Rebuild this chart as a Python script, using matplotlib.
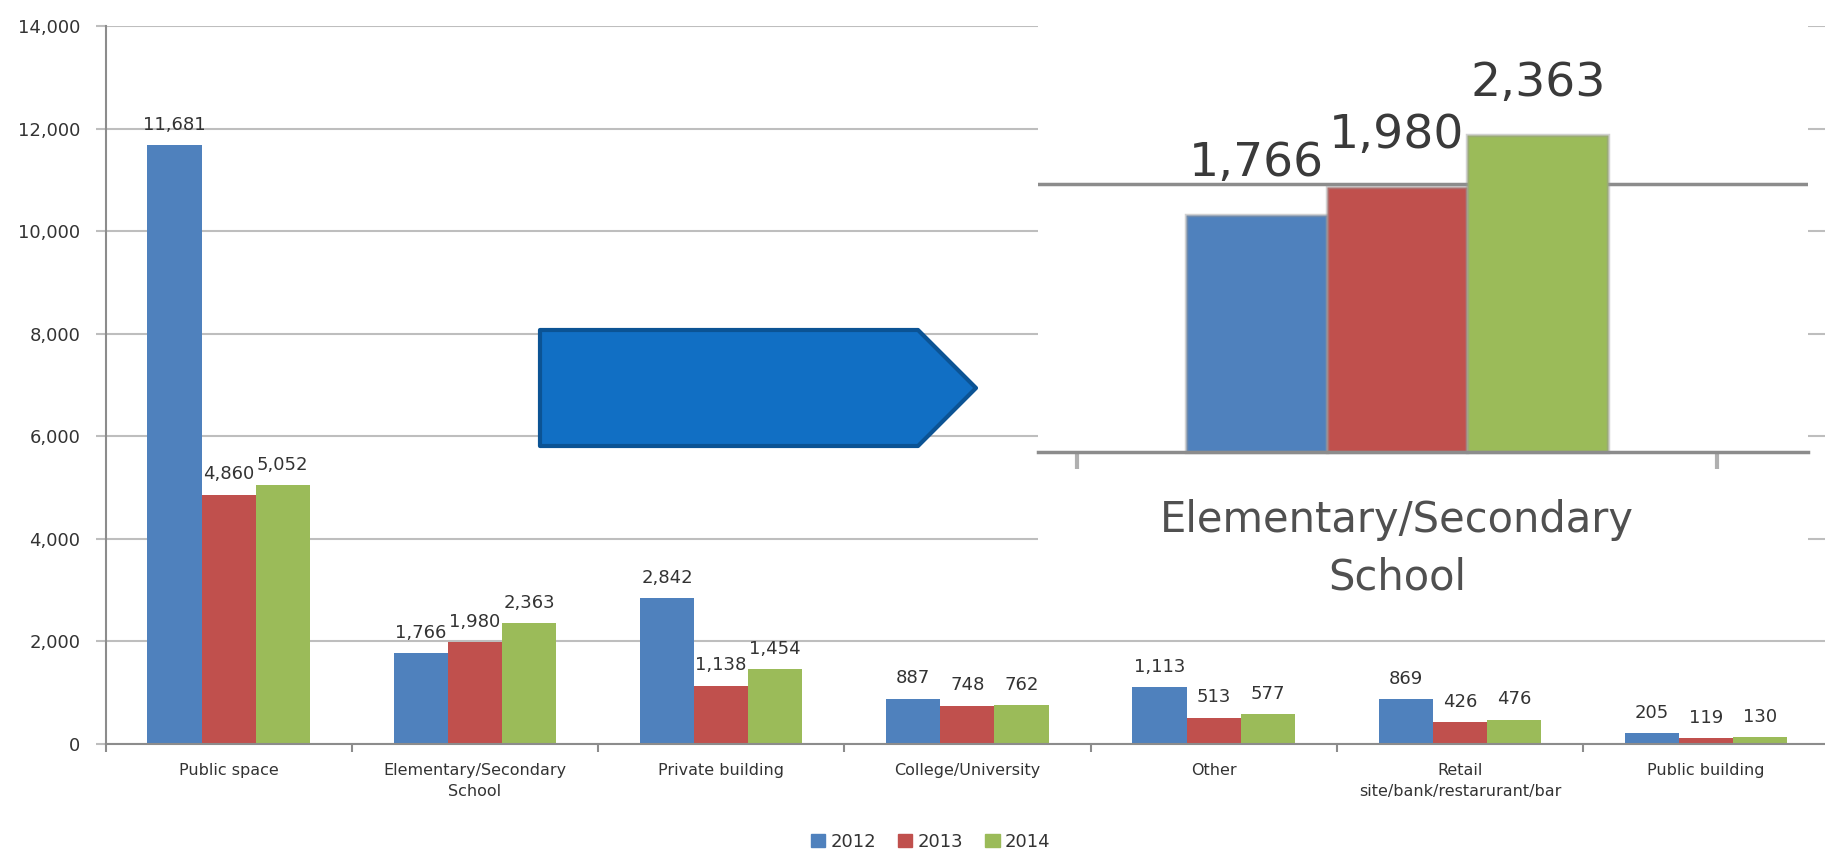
import matplotlib
matplotlib.use("Agg")
import matplotlib.pyplot as plt
import numpy as np
from matplotlib.patches import Patch, Polygon

categories = ["Public space", "Elementary/Secondary\nSchool", "Private building",
              "College/University", "Other", "Retail\nsite/bank/restarurant/bar",
              "Public building"]
years = ["2012", "2013", "2014"]
v2012 = [11681, 1766, 2842, 887, 1113, 869, 205]
v2013 = [4860, 1980, 1138, 748, 513, 426, 119]
v2014 = [5052, 2363, 1454, 762, 577, 476, 130]
yticks = [0, 2000, 4000, 6000, 8000, 10000, 12000, 14000]

colors = ["#4F81BD", "#C0504D", "#9BBB59"]
series = [v2012, v2013, v2014]
text_col = "#333333"
grid_col = "#BEBEBE"
axis_col = "#8C8C8C"

W, H = 1825, 858
fig = plt.figure(figsize=(W / 100, H / 100), dpi=100)


def px(x0, y0, x1, y1):
    # pixel box (top-left origin) -> figure fraction rect
    return [x0 / W, 1 - y1 / H, (x1 - x0) / W, (y1 - y0) / H]


# main chart
ax = fig.add_axes(px(105.5, 26, 105.5 + 7 * 246.25, 744))
x = np.arange(len(categories))
bw = 0.22
for i, vals in enumerate(series):
    pos = x + (i - 1) * bw
    ax.bar(pos, vals, width=bw, color=colors[i], zorder=2)
    for xp, v in zip(pos, vals):
        ax.annotate(f"{v:,}", (xp, v), xytext=(0, 11), textcoords="offset points",
                    ha="center", va="baseline", fontsize=13, color=text_col)

ax.set_xlim(-0.5, len(categories) - 0.5)
ax.set_ylim(0, 14000)
ax.set_yticks(yticks)
ax.set_yticklabels([f"{t:,}" for t in yticks], fontsize=13, color=text_col)
ax.yaxis.grid(True, color=grid_col, lw=1.5, zorder=0)
ax.set_axisbelow(True)
ax.tick_params(axis="y", length=7, width=1.5, color=grid_col, pad=11)

ax.set_xticks(np.arange(-0.5, len(categories), 1.0))
ax.set_xticklabels([])
ax.tick_params(axis="x", which="major", length=6, width=1.5, color=axis_col)
ax.set_xticks(x, minor=True)
ax.set_xticklabels(categories, minor=True, fontsize=11.5, color=text_col,
                   linespacing=1.45)
ax.tick_params(axis="x", which="minor", length=0, pad=14)

for s in ["top", "right"]:
    ax.spines[s].set_visible(False)
for s in ["left", "bottom"]:
    ax.spines[s].set_color(axis_col)
    ax.spines[s].set_linewidth(1.5)

# legend
handles = [Patch(color=c, label=y) for c, y in zip(colors, years)]
fig.legend(handles=handles, loc="center", bbox_to_anchor=(0.51, 0.019), ncol=3,
           frameon=False, fontsize=13, handlelength=0.8, handleheight=0.8,
           handletextpad=0.3, columnspacing=1.2, labelcolor=text_col)

# zoomed inset of the Elementary/Secondary group
ppu = 0.134  # pixels per unit in the inset
ax2 = fig.add_axes(px(1038, 0, 1808, 615))
ax2.set_zorder(3)
ax2.set_facecolor("white")
k = 1
for i, vals in enumerate(series):
    xp = k + (i - 1) * bw
    ax2.bar(xp, vals[k], width=bw, color=colors[i], zorder=2,
            edgecolor=(0.6, 0.6, 0.6, 0.45), linewidth=2.5)
    ax2.annotate(f"{vals[k]:,}", (xp, vals[k]), xytext=(0, 28), textcoords="offset points",
                 ha="center", va="baseline", fontsize=34, color="#3a3a3a")
ax2.set_xlim(1 + (1038 - 1397) / 640, 1 + (1808 - 1397) / 640)
ax2.set_ylim(-(615 - 452) / ppu, 452 / ppu)
ax2.axhline(2000, color=axis_col, lw=2.5, zorder=1)
for s in ["top", "right", "left"]:
    ax2.spines[s].set_visible(False)
ax2.spines["bottom"].set_position(("data", 0))
ax2.spines["bottom"].set_color(axis_col)
ax2.spines["bottom"].set_linewidth(2.5)
ax2.set_yticks([])
ax2.set_xticks([k - 0.5, k + 0.5])
ax2.set_xticklabels([])
ax2.tick_params(axis="x", length=12, width=3, color="#B0B0B0")
ax2.annotate(categories[k], (k, 0), xytext=(0, -34), textcoords="offset points",
             ha="center", va="top", fontsize=30, color="#505050", linespacing=1.45)

# arrow pointing to the inset
pts = [(540, 330), (918, 330), (976, 388), (918, 446), (540, 446)]
arrow = Polygon([(px_ / W, 1 - py_ / H) for px_, py_ in pts], closed=True,
                transform=fig.transFigure, facecolor="#116FC4", edgecolor="#0B5394",
                lw=3, joinstyle="round", zorder=5)
fig.add_artist(arrow)

fig.savefig("out.png", dpi=100)
